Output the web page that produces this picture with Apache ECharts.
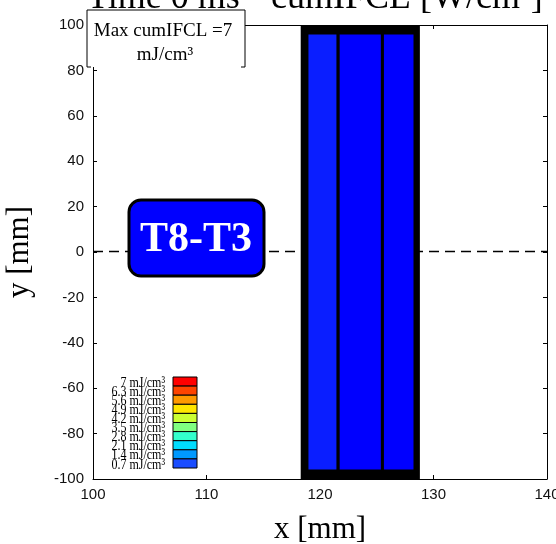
<!DOCTYPE html>
<html>
<head>
<meta charset="utf-8">
<script src="https://cdn.jsdelivr.net/npm/echarts@6/dist/echarts.min.js"></script>
<style>
  html, body { margin: 0; padding: 0; background: #fff; overflow: hidden; }
  #chart { width: 556px; height: 544px; }
</style>
</head>
<body>
<div id="chart"></div>
<script>
// Axis ranges and tick labels
const xRange = [100, 140];
const yRange = [-100, 100];
const xTickStep = 10;
const yTickStep = 20;

// Sensor cells (mm): left edge, right edge, bottom, top, cumulative value (mJ/cm3)
const cellX0 = [118.85, 121.6, 125.5];
const cellX1 = [121.6, 125.5, 128.37];
const cellY0 = [-96.5, -96.5, -96.5];
const cellY1 = [96.5, 96.5, 96.5];
const cellValue = [0.7, 0.7, 0.7];
const cellColor = ['#0a1eff', '#0000ff', '#0000ff'];

// Outer frame of the sensor (mm)
const frameX = [118.3, 128.8];
const frameY = [-100, 100];

// Reference line y = 0
const refLineX = [100, 140];
const refLineY = [0.2, 0.2];

// Colour scale legend, top to bottom
const scaleLabels = ['7 mJ/cm³', '6.3 mJ/cm³', '5.6 mJ/cm³', '4.9 mJ/cm³', '4.2 mJ/cm³',
                     '3.5 mJ/cm³', '2.8 mJ/cm³', '2.1 mJ/cm³', '1.4 mJ/cm³', '0.7 mJ/cm³'];
const scaleColors = ['#ff0000', '#ff4400', '#ff9900', '#ffe600', '#ccff33',
                     '#80ff80', '#33ffcc', '#00ddff', '#0099ff', '#1a4dff'];

const titleParts = ['Time 0 ms', 'cumIFCL [W/cm²]'];
const maxText = ['Max cumIFCL =7', 'mJ/cm³'];
const tagText = 'T8-T3';

const chart = echarts.init(document.getElementById('chart'), null, { renderer: 'canvas' });

const serif = '"Liberation Serif", "DejaVu Serif", serif';
const sans = '"Liberation Sans", Arial, sans-serif';

function rectShape(api) {
  const p0 = api.coord([api.value(0), api.value(3)]);
  const p1 = api.coord([api.value(1), api.value(2)]);
  return { x: p0[0], y: p0[1], width: p1[0] - p0[0], height: p1[1] - p0[1] };
}

// Legend graphics
const legendGraphics = [];
const barLeft = 173, barTop = 377, barW = 24, rowH = 9.1;
scaleColors.forEach((c, i) => {
  legendGraphics.push({
    type: 'rect', z: 50,
    shape: { x: barLeft, y: barTop + i * rowH, width: barW, height: rowH },
    style: { fill: c, stroke: '#000', lineWidth: 1 }
  });
  legendGraphics.push({
    type: 'text', z: 50,
    x: 165, y: barTop + i * rowH + rowH / 2 + 1,
    scaleY: 1.3,
    style: {
      text: scaleLabels[i], fill: '#000',
      font: '12px ' + serif, align: 'right', verticalAlign: 'middle'
    }
  });
});

const axisCommon = {
  axisLine: { onZero: false, lineStyle: { color: '#000', width: 1 } },
  axisTick: { inside: true, length: 4, lineStyle: { color: '#000' } },
  splitLine: { show: false }
};

const option = {
  backgroundColor: '#fff',
  animation: false,
  grid: { left: 93, right: 9, top: 25, bottom: 65, containLabel: false, outerBoundsMode: 'none' },
  xAxis: [
    Object.assign({
      type: 'value', min: xRange[0], max: xRange[1], interval: xTickStep, position: 'bottom',
      axisLabel: { color: '#111', fontSize: 15, fontFamily: sans, margin: 8 },
      name: 'x [mm]', nameLocation: 'middle', nameGap: 35,
      nameTextStyle: { fontFamily: serif, fontSize: 31, color: '#000' }
    }, axisCommon),
    Object.assign({
      type: 'value', min: xRange[0], max: xRange[1], interval: xTickStep, position: 'top',
      axisLabel: { show: false }
    }, axisCommon)
  ],
  yAxis: [
    Object.assign({
      type: 'value', min: yRange[0], max: yRange[1], interval: yTickStep, position: 'left',
      axisLabel: { color: '#111', fontSize: 15, fontFamily: sans, margin: 9 },
      name: 'y [mm]', nameLocation: 'middle', nameGap: 58, nameRotate: 90,
      nameTextStyle: { fontFamily: serif, fontSize: 31, color: '#000' }
    }, axisCommon),
    Object.assign({
      type: 'value', min: yRange[0], max: yRange[1], interval: yTickStep, position: 'right',
      axisLabel: { show: false }
    }, axisCommon)
  ],
  series: [
    {
      // y = 0 reference line
      type: 'line', z: 1, silent: true, symbol: 'none',
      data: refLineX.map((x, i) => [x, refLineY[i]]),
      lineStyle: { color: '#000', type: [10, 6], width: 1.5, opacity: 1 }
    },
    {
      // sensor frame
      type: 'custom', z: 5, silent: true,
      data: [[frameX[0], frameX[1], frameY[0], frameY[1]]],
      renderItem: function (params, api) {
        return { type: 'rect', shape: rectShape(api), style: { fill: '#000' } };
      }
    },
    {
      // sensor cells
      type: 'custom', z: 6, silent: true,
      data: cellX0.map((x, i) => [x, cellX1[i], cellY0[i], cellY1[i], cellValue[i]]),
      renderItem: function (params, api) {
        return {
          type: 'rect', shape: rectShape(api),
          style: { fill: cellColor[params.dataIndex], stroke: '#000', lineWidth: 3 }
        };
      }
    }
  ],
  graphic: [
    // cropped title
    {
      type: 'text', z: 60, x: 87, y: -1,
      style: { text: titleParts[0], font: '36px ' + serif, fill: '#000', align: 'left', verticalAlign: 'middle' }
    },
    {
      type: 'text', z: 60, x: 271, y: -1,
      style: { text: titleParts[1], font: '36px ' + serif, fill: '#000', align: 'left', verticalAlign: 'middle' }
    },
    // max value box
    {
      type: 'rect', z: 60,
      shape: { x: 87, y: 10, width: 158, height: 57 },
      style: { fill: '#fff', stroke: null }
    },
    {
      type: 'polyline', z: 61,
      shape: { points: [[87, 67], [87, 10], [245, 10], [245, 67]] },
      style: { stroke: '#000', lineWidth: 1, fill: null }
    },
    {
      type: 'polyline', z: 61,
      shape: { points: [[87, 67], [91, 67]] },
      style: { stroke: '#000', lineWidth: 1 }
    },
    {
      type: 'polyline', z: 61,
      shape: { points: [[241, 67], [245, 67]] },
      style: { stroke: '#000', lineWidth: 1 }
    },
    {
      type: 'text', z: 62, x: 163, y: 31,
      style: { text: maxText[0], font: '19px ' + serif, fill: '#000', align: 'center', verticalAlign: 'middle' }
    },
    {
      type: 'text', z: 62, x: 165, y: 55,
      style: { text: maxText[1], font: '19px ' + serif, fill: '#000', align: 'center', verticalAlign: 'middle' }
    },
    // sensor pair tag
    {
      type: 'rect', z: 60,
      shape: { x: 129, y: 200, width: 135, height: 76, r: 12 },
      style: { fill: '#0000ff', stroke: '#000', lineWidth: 3 }
    },
    {
      type: 'text', z: 61, x: 196, y: 240,
      style: { text: tagText, font: 'bold 42px ' + serif, fill: '#fff', align: 'center', verticalAlign: 'middle' }
    }
  ].concat(legendGraphics)
};

chart.setOption(option);
</script>
</body>
</html>
